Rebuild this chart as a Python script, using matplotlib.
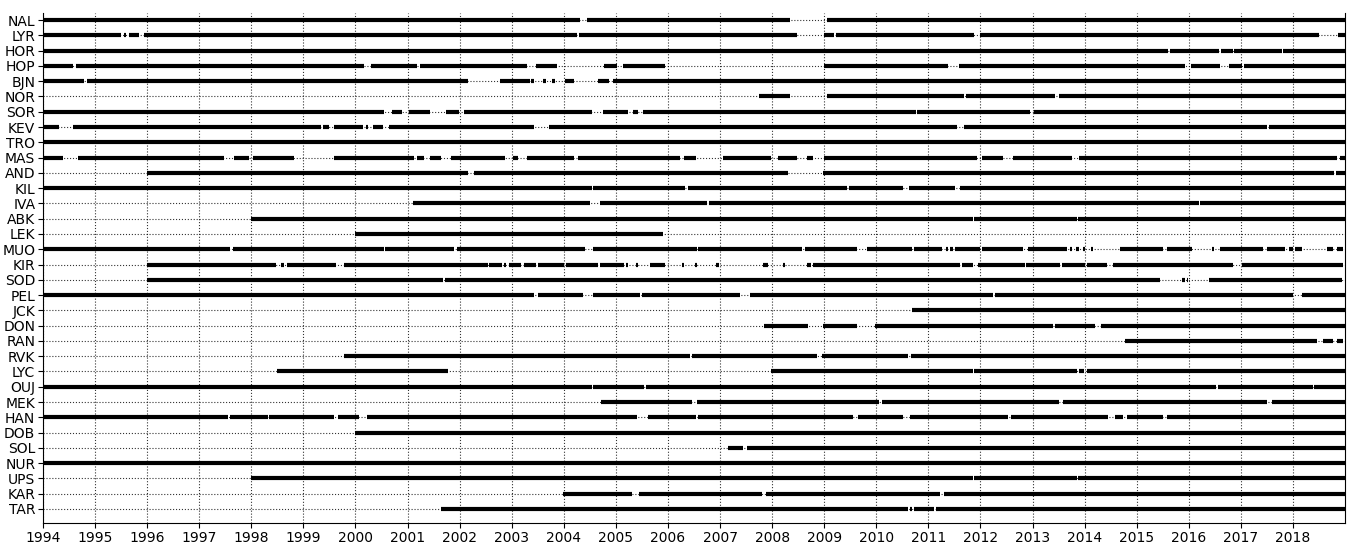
import numpy as np
import matplotlib
matplotlib.use('Agg')
from matplotlib import pyplot as plt

stations = ['NAL', 'LYR', 'HOR', 'HOP', 'BJN', 'NOR', 'SOR', 'KEV', 'TRO', 'MAS',
            'AND', 'KIL', 'IVA', 'ABK', 'LEK', 'MUO', 'KIR', 'SOD', 'PEL', 'JCK',
            'DON', 'RAN', 'RVK', 'LYC', 'OUJ', 'MEK', 'HAN', 'DOB', 'SOL', 'NUR',
            'UPS', 'KAR', 'TAR']

# periods with data (decimal years)
NAL = [(1994.0, 2004.32), (2004.45, 2008.35), (2009.06, 2019.0)]
LYR = [(1994.0, 1995.5), (1995.55, 1995.6), (1995.66, 1995.85), (1995.94, 2004.26),
       (2004.3, 2008.47), (2008.99, 2009.18), (2009.23, 2011.88), (2012.0, 2018.5),
       (2018.87, 2019.0)]
HOR = [(1994.0, 2015.6), (2015.63, 2016.58), (2016.62, 2016.84), (2016.87, 2017.78),
       (2017.81, 2019.0)]
HOP = [(1994.0, 1994.58), (1994.63, 2000.16), (2000.29, 2001.19), (2001.23, 2003.29),
       (2003.46, 2003.86), (2004.78, 2005.03), (2005.13, 2005.95), (2008.99, 2011.38),
       (2011.59, 2015.93), (2016.04, 2016.6), (2016.77, 2017.02), (2017.06, 2019.0)]
BJN = [(1994.0, 1994.79), (1994.85, 2002.17), (2002.77, 2003.35), (2003.37, 2003.42),
       (2003.6, 2003.66), (2003.77, 2003.83), (2004.03, 2004.19), (2004.65, 2004.86),
       (2004.94, 2019.0)]
NOR = [(2007.74, 2008.35), (2009.06, 2011.69), (2011.72, 2013.43), (2013.5, 2019.0)]
SOR = [(1994.0, 2000.55), (2000.71, 2000.9), (2001.02, 2001.44), (2001.73, 2001.98),
       (2002.08, 2004.55), (2004.76, 2005.24), (2005.32, 2005.43), (2005.53, 2010.76),
       (2010.79, 2012.95), (2013.03, 2019.0)]
KEV = [(1994.0, 1994.3), (1994.57, 1999.33), (1999.37, 1999.49), (1999.59, 2000.14),
       (2000.21, 2000.25), (2000.33, 2000.52), (2000.64, 2003.42), (2003.71, 2011.54),
       (2011.69, 2017.51), (2017.54, 2019.0)]
TRO = [(1994.0, 2019.0)]
MAS = [(1994.0, 1994.38), (1994.68, 1997.48), (1997.66, 1997.96), (1998.03, 1998.82),
       (1999.59, 2001.12), (2001.19, 2001.32), (2001.44, 2001.64), (2001.83, 2002.88),
       (2003.02, 2003.13), (2003.3, 2004.19), (2004.28, 2006.24), (2006.3, 2006.53),
       (2007.05, 2007.97), (2008.12, 2008.47), (2008.66, 2008.79), (2008.99, 2011.94),
       (2012.03, 2012.44), (2012.63, 2013.76), (2013.9, 2018.85), (2018.9, 2019.0)]
AND = [(1996.0, 2002.17), (2002.27, 2008.31), (2008.98, 2018.78), (2018.82, 2019.0)]
KIL = [(1994.0, 2004.54), (2004.57, 2006.32), (2006.39, 2009.43), (2009.47, 2010.52),
       (2010.62, 2011.52), (2011.61, 2019.0)]
IVA = [(2001.11, 2004.51), (2004.69, 2006.75), (2006.79, 2016.19), (2016.22, 2019.0)]
ABK = [(1998.0, 2011.85), (2011.88, 2013.85), (2013.88, 2019.0)]
LEK = [(2000.0, 2005.91)]
MUO = [(1994.0, 1997.6), (1997.64, 2000.54), (2000.57, 2001.9), (2001.94, 2004.4),
       (2004.57, 2006.55), (2006.58, 2008.58), (2008.64, 2009.63), (2009.82, 2010.68),
       (2010.73, 2011.27), (2011.34, 2011.37), (2011.42, 2011.48), (2011.52, 2012.0),
       (2012.03, 2012.82), (2012.92, 2013.66), (2013.72, 2013.76), (2013.84, 2013.9),
       (2013.97, 2014.0), (2014.13, 2014.16), (2014.68, 2015.5), (2015.58, 2016.06),
       (2016.45, 2016.49), (2016.6, 2017.43), (2017.5, 2017.85), (2017.92, 2018.0),
       (2018.04, 2018.17), (2018.65, 2018.77), (2018.85, 2018.96)]
KIR = [(1996.0, 1998.47), (1998.57, 1998.62), (1998.68, 1999.62), (1999.78, 2002.54),
       (2002.56, 2002.82), (2002.86, 2002.89), (2002.94, 2003.17), (2003.23, 2003.46),
       (2003.5, 2004.0), (2004.05, 2004.66), (2004.69, 2005.15), (2005.2, 2005.24),
       (2005.39, 2005.43), (2005.65, 2005.95), (2006.26, 2006.3), (2006.51, 2006.55),
       (2006.93, 2006.98), (2007.83, 2007.93), (2008.2, 2008.24), (2008.66, 2008.75),
       (2008.79, 2011.61), (2011.65, 2011.86), (2011.96, 2012.86), (2012.88, 2013.53),
       (2013.57, 2014.0), (2014.05, 2014.43), (2014.55, 2016.85), (2017.02, 2018.96)]
SOD = [(1996.0, 2001.68), (2001.72, 2015.45), (2015.87, 2015.93), (2015.96, 2015.98),
       (2016.39, 2018.95)]
PEL = [(1994.0, 2003.42), (2003.5, 2004.36), (2004.57, 2005.47), (2005.51, 2007.39),
       (2007.58, 2012.24), (2012.27, 2018.0), (2018.17, 2019.0)]
JCK = [(2010.69, 2019.0)]
DON = [(2007.85, 2008.69), (2008.98, 2009.62), (2009.98, 2013.4), (2013.43, 2014.2),
       (2014.32, 2019.0)]
RAN = [(2014.78, 2018.46), (2018.57, 2018.77), (2018.85, 2018.96)]
RVK = [(1999.78, 2006.43), (2006.47, 2008.86), (2008.96, 2010.6), (2010.67, 2019.0)]
LYC = [(1998.49, 2001.77), (2007.98, 2011.85), (2011.88, 2013.86), (2013.9, 2013.98),
       (2014.04, 2019.0)]
OUJ = [(1994.0, 2004.54), (2004.57, 2005.54), (2005.57, 2016.53), (2016.56, 2018.38),
       (2018.41, 2019.0)]
MEK = [(2004.72, 2006.47), (2006.55, 2010.06), (2010.1, 2013.5), (2013.58, 2017.5),
       (2017.6, 2019.0)]
HAN = [(1994.0, 1997.55), (1997.6, 1998.32), (1998.34, 1999.59), (1999.66, 2000.06),
       (2000.22, 2005.4), (2005.61, 2006.53), (2006.57, 2009.56), (2009.65, 2010.52),
       (2010.65, 2012.53), (2012.59, 2014.45), (2014.59, 2014.74), (2014.82, 2015.5),
       (2015.58, 2019.0)]
DOB = [(2000.0, 2019.0)]
SOL = [(2007.15, 2007.45), (2007.51, 2019.0)]
NUR = [(1994.0, 2019.0)]
UPS = [(1998.0, 2011.85), (2011.88, 2013.85), (2013.88, 2019.0)]
KAR = [(2003.98, 2005.3), (2005.45, 2007.8), (2007.89, 2011.23), (2011.3, 2019.0)]
TAR = [(2001.65, 2010.6), (2010.64, 2010.68), (2010.72, 2011.1), (2011.15, 2019.0)]

periods = [NAL, LYR, HOR, HOP, BJN, NOR, SOR, KEV, TRO, MAS, AND, KIL, IVA, ABK, LEK,
           MUO, KIR, SOD, PEL, JCK, DON, RAN, RVK, LYC, OUJ, MEK, HAN, DOB, SOL, NUR,
           UPS, KAR, TAR]

years = np.arange(1994, 2019)

fig = plt.figure(figsize=(13.51, 5.48), dpi=100)
ax = fig.add_axes([0.0318, 0.0456, 0.9638, 0.9306])

for i, per in enumerate(periods):
    for (a, b) in per:
        ax.hlines(i, a, b, colors='k', lw=3.0, zorder=3)

ax.set_xlim(1994, 2019)
ax.set_ylim(32.92, -0.46)
ax.set_xticks(years)
ax.set_xticklabels([str(y) for y in years], fontsize=10)
ax.set_yticks(range(len(stations)))
ax.set_yticklabels(stations, fontsize=10)
ax.tick_params(axis='both', length=3.5, pad=2)
ax.grid(True, ls=':', color='k', lw=0.8, alpha=0.8)
ax.set_axisbelow(True)
ax.spines['top'].set_visible(False)

plt.savefig('out.png', dpi=100)
